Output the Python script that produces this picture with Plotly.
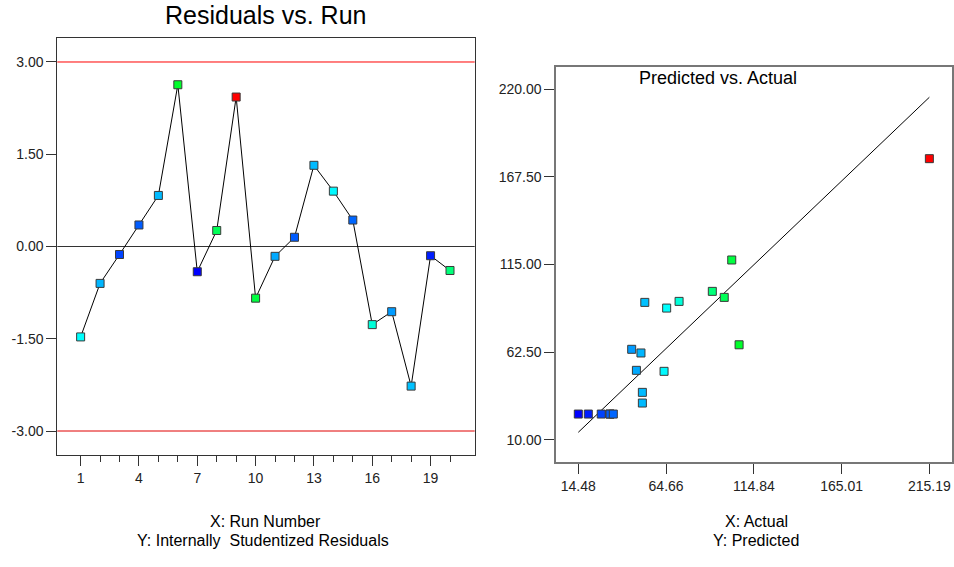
import plotly.graph_objects as go

# Experimental runs: actual response, model prediction and studentized residual
runs = list(range(1, 21))
actual = [65.0, 50.3, 27.6, 32.6, 51.1, 106.4, 14.48, 97.9, 215.19, 102.2,
          47.7, 32.6, 51.1, 63.5, 34.5, 72.1, 45.0, 52.5, 20.2, 91.1]
predicted = [88.9, 62.0, 25.4, 25.4, 38.4, 66.9, 25.4, 95.3, 178.4, 117.7,
             51.6, 25.4, 32.0, 51.0, 25.4, 92.9, 64.2, 92.3, 25.4, 98.9]
residuals = [-1.47, -0.60, -0.13, 0.35, 0.83, 2.63, -0.41, 0.26, 2.43, -0.84,
             -0.16, 0.15, 1.32, 0.90, 0.43, -1.27, -1.06, -2.27, -0.15, -0.39]

# Outlier limits for the residual plot
limit_hi = 3.0
limit_lo = -3.0

resid_ticks = [-3.0, -1.5, 0.0, 1.5, 3.0]
run_ticks = [1, 4, 7, 10, 13, 16, 19]
run_minor = list(range(1, 21))
actual_ticks = [14.48, 64.66, 114.84, 165.01, 215.19]
pred_ticks = [10.0, 62.5, 115.0, 167.5, 220.0]

rainbow = [[0.0, "#0000ff"], [0.25, "#00ffff"], [0.5, "#00ff00"],
           [0.75, "#ffff00"], [1.0, "#ff0000"]]

W, H = 954, 567
FONT = "Liberation Sans, Arial, sans-serif"


def px(x):
    return x / W


def py(y):
    return 1 - y / H


marker_style = dict(
    symbol="square", size=8,
    color=actual, colorscale=rainbow,
    cmin=min(actual), cmax=max(actual),
    line=dict(color="#3a3a3a", width=1),
)

fig = go.Figure()

# Residuals vs. run
fig.add_trace(go.Scatter(
    x=runs, y=residuals, mode="lines+markers",
    line=dict(color="black", width=1),
    marker=marker_style,
    xaxis="x", yaxis="y", showlegend=False,
))

# Predicted vs. actual with the y = x reference line
fig.add_trace(go.Scatter(
    x=[min(actual), max(actual)], y=[min(actual), max(actual)],
    mode="lines", line=dict(color="black", width=1),
    xaxis="x2", yaxis="y2", showlegend=False,
))
fig.add_trace(go.Scatter(
    x=actual, y=predicted, mode="markers",
    marker=marker_style,
    xaxis="x2", yaxis="y2", showlegend=False,
))

shapes = []
for yv, col in [(limit_hi, "#ff0000"), (limit_lo, "#e00000"), (0.0, "#333333")]:
    shapes.append(dict(type="line", xref="x domain", yref="y",
                       x0=0, x1=1, y0=yv, y1=yv,
                       line=dict(color=col, width=1), layer="below"))

tick_font = dict(family=FONT, size=14, color="#222222")
axis_common = dict(showgrid=False, zeroline=False, showline=True, mirror=True,
                   ticks="outside", tickcolor="#333333", ticklen=10,
                   tickfont=tick_font)


def label(text, x, y, size):
    return dict(text=text, x=px(x), y=py(y), xref="paper", yref="paper",
                xanchor="center", yanchor="middle", showarrow=False,
                font=dict(family=FONT, size=size, color="black"))


fig.update_layout(
    width=W, height=H,
    margin=dict(l=0, r=0, t=0, b=0),
    paper_bgcolor="white", plot_bgcolor="white",
    shapes=shapes,
    xaxis=dict(
        domain=[px(57.3), px(474.7)], anchor="y",
        range=[-0.2, 21.27],
        tickmode="array", tickvals=run_ticks,
        ticktext=[str(v) for v in run_ticks],
        minor=dict(tickmode="array", tickvals=run_minor, ticks="outside",
                   ticklen=6, tickcolor="#333333"),
        linecolor="#333333", linewidth=1,
        **axis_common,
    ),
    yaxis=dict(
        domain=[py(455), py(38)], anchor="x",
        range=[-3.39, 3.39],
        tickmode="array", tickvals=resid_ticks,
        ticktext=[f"{v:.2f}" for v in resid_ticks],
        linecolor="#333333", linewidth=1,
        **axis_common,
    ),
    xaxis2=dict(
        domain=[px(556.3), px(952.3)], anchor="y2",
        range=[1.9, 228.3],
        tickmode="array", tickvals=actual_ticks,
        ticktext=[f"{v:.2f}" for v in actual_ticks],
        linecolor="#777777", linewidth=2,
        **axis_common,
    ),
    yaxis2=dict(
        domain=[py(462.3), py(66.7)], anchor="x2",
        range=[-3.5, 233.5],
        tickmode="array", tickvals=pred_ticks,
        ticktext=[f"{v:.2f}" for v in pred_ticks],
        linecolor="#777777", linewidth=2,
        **axis_common,
    ),
    annotations=[
        label("Residuals vs. Run", 265, 15, 25),
        label("Predicted vs. Actual", 718, 78, 18),
        label("X: Run Number", 265, 521, 16),
        label("Y: Internally  Studentized Residuals", 263, 540, 16),
        label("X: Actual", 756, 521, 16),
        label("Y: Predicted", 756, 540, 16),
    ],
)

fig.write_html("out.html")
